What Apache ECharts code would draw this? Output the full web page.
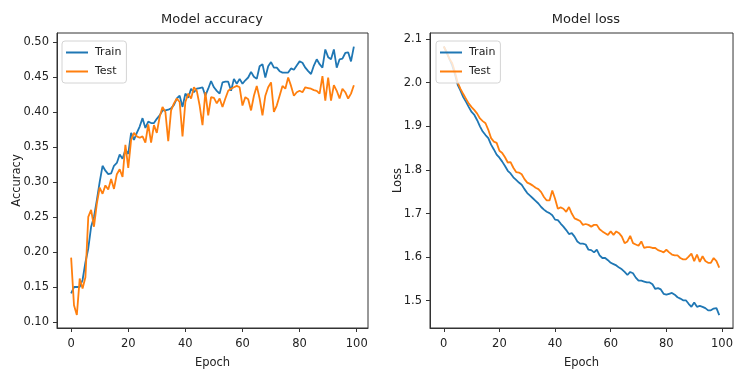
<!DOCTYPE html>
<html>
<head>
<meta charset="utf-8">
<script src="https://cdn.jsdelivr.net/npm/echarts@6/dist/echarts.min.js"></script>
<style>
  html, body { margin: 0; padding: 0; background: #fff; }
  #chart { width: 736px; height: 374px; }
</style>
</head>
<body>
<div id="chart"></div>
<script>
// accuracy per epoch (0..99)
const trainAcc = [
  0.141, 0.150, 0.150, 0.150, 0.160, 0.185, 0.205, 0.236, 0.250, 0.274,
  0.300, 0.323, 0.316, 0.311, 0.312, 0.323, 0.327, 0.339, 0.333, 0.346,
  0.340, 0.370, 0.360, 0.370, 0.379, 0.391, 0.377, 0.386, 0.384, 0.384,
  0.390, 0.395, 0.402, 0.402, 0.403, 0.405, 0.410, 0.419, 0.423, 0.407,
  0.426, 0.420, 0.433, 0.428, 0.433, 0.434, 0.435, 0.423, 0.433, 0.444,
  0.435, 0.430, 0.426, 0.442, 0.443, 0.443, 0.430, 0.447, 0.440, 0.447,
  0.440, 0.445, 0.449, 0.457, 0.450, 0.447, 0.465, 0.468, 0.449, 0.465,
  0.471, 0.463, 0.463, 0.458, 0.456, 0.456, 0.456, 0.462, 0.460, 0.466,
  0.472, 0.470, 0.463, 0.458, 0.454, 0.466, 0.475, 0.468, 0.463, 0.489,
  0.478, 0.475, 0.489, 0.463, 0.475, 0.476, 0.484, 0.485, 0.472, 0.493
];
const testAcc = [
  0.192, 0.124, 0.110, 0.162, 0.148, 0.164, 0.250, 0.260, 0.236, 0.269,
  0.292, 0.283, 0.295, 0.289, 0.304, 0.290, 0.311, 0.318, 0.307, 0.353,
  0.320, 0.360, 0.370, 0.365, 0.363, 0.365, 0.356, 0.382, 0.356, 0.381,
  0.370, 0.393, 0.407, 0.400, 0.358, 0.402, 0.412, 0.419, 0.414, 0.365,
  0.414, 0.426, 0.419, 0.435, 0.430, 0.409, 0.381, 0.428, 0.395, 0.421,
  0.420, 0.412, 0.419, 0.407, 0.419, 0.430, 0.433, 0.435, 0.437, 0.435,
  0.409, 0.421, 0.418, 0.402, 0.423, 0.437, 0.419, 0.395, 0.423, 0.435,
  0.442, 0.400, 0.409, 0.423, 0.437, 0.433, 0.449, 0.437, 0.423, 0.428,
  0.430, 0.428, 0.435, 0.434, 0.433, 0.431, 0.430, 0.426, 0.451, 0.416,
  0.449, 0.416, 0.438, 0.430, 0.419, 0.433, 0.428, 0.419, 0.426, 0.438
];
// loss per epoch (0..99)
const trainLoss = [
  2.083, 2.070, 2.055, 2.040, 2.020, 1.995, 1.982, 1.967, 1.956, 1.944,
  1.933, 1.926, 1.914, 1.900, 1.888, 1.880, 1.873, 1.858, 1.847, 1.835,
  1.828, 1.819, 1.809, 1.798, 1.792, 1.783, 1.777, 1.771, 1.766, 1.756,
  1.747, 1.741, 1.735, 1.729, 1.723, 1.715, 1.709, 1.704, 1.701, 1.696,
  1.686, 1.685, 1.677, 1.670, 1.662, 1.653, 1.655, 1.647, 1.636, 1.631,
  1.631, 1.629, 1.617, 1.616, 1.611, 1.617, 1.604, 1.598, 1.598, 1.593,
  1.587, 1.584, 1.581, 1.576, 1.572, 1.566, 1.559, 1.566, 1.563, 1.553,
  1.546, 1.546, 1.544, 1.542, 1.542, 1.538, 1.527, 1.529, 1.526, 1.516,
  1.514, 1.516, 1.518, 1.514, 1.508, 1.505, 1.501, 1.501, 1.493, 1.486,
  1.496, 1.486, 1.488, 1.486, 1.483, 1.478, 1.478, 1.482, 1.483, 1.467
];
const testLoss = [
  2.083, 2.070, 2.055, 2.045, 2.025, 2.000, 1.986, 1.974, 1.963, 1.952,
  1.944, 1.937, 1.929, 1.918, 1.912, 1.907, 1.892, 1.873, 1.865, 1.862,
  1.844, 1.839, 1.829, 1.817, 1.818, 1.805, 1.795, 1.794, 1.790, 1.779,
  1.771, 1.768, 1.764, 1.759, 1.756, 1.749, 1.738, 1.730, 1.730, 1.753,
  1.734, 1.711, 1.714, 1.711, 1.704, 1.715, 1.700, 1.689, 1.686, 1.683,
  1.674, 1.676, 1.674, 1.670, 1.674, 1.674, 1.664, 1.659, 1.655, 1.651,
  1.659, 1.651, 1.659, 1.655, 1.647, 1.632, 1.636, 1.649, 1.632, 1.629,
  1.626, 1.636, 1.621, 1.623, 1.623, 1.621, 1.621, 1.616, 1.614, 1.611,
  1.617, 1.611, 1.606, 1.604, 1.604, 1.598, 1.595, 1.595, 1.601, 1.608,
  1.591, 1.606, 1.589, 1.602, 1.591, 1.587, 1.587, 1.598, 1.591, 1.576
];

const epochTicks = [0, 20, 40, 60, 80, 100];
const accTicks = [0.10, 0.15, 0.20, 0.25, 0.30, 0.35, 0.40, 0.45, 0.50];
const lossTicks = [1.5, 1.6, 1.7, 1.8, 1.9, 2.0, 2.1];

const BLUE = "#1f77b4";
const ORANGE = "#ff7f0e";
const FONT = "DejaVu Sans";
const INK = "#333";

const withEpoch = (arr) => arr.map((v, i) => [i, v]);

const xAxisFor = (gridIndex) => ({
  type: "value",
  gridIndex,
  min: -4.95,
  max: 103.95,
  name: "Epoch",
  nameLocation: "middle",
  nameGap: 29,
  nameMoveOverlap: false,
  nameTextStyle: { fontFamily: FONT, fontSize: 11.5, color: "#222" },
  splitLine: { show: false },
  axisLine: { show: true, onZero: false, lineStyle: { color: INK, width: 1 } },
  axisTick: { show: true, length: 4, customValues: epochTicks, lineStyle: { color: INK } },
  axisLabel: {
    customValues: epochTicks,
    margin: 10,
    fontFamily: FONT,
    fontSize: 11.5,
    color: "#222",
  },
});

const yAxisFor = (gridIndex, min, max, ticks, digits, name, gap) => ({
  type: "value",
  gridIndex,
  min,
  max,
  name,
  nameLocation: "middle",
  nameGap: gap,
  nameMoveOverlap: false,
  nameTextStyle: { fontFamily: FONT, fontSize: 11.5, color: "#222" },
  splitLine: { show: false },
  axisLine: { show: true, onZero: false, lineStyle: { color: INK, width: 1 } },
  axisTick: { show: true, length: 4, customValues: ticks, lineStyle: { color: INK } },
  axisLabel: {
    customValues: ticks,
    margin: 8,
    fontFamily: FONT,
    fontSize: 11.5,
    color: "#222",
    formatter: (v) => v.toFixed(digits),
  },
});

const legendFor = (left) => ({
  orient: "vertical",
  left,
  top: 41,
  padding: [6, 5, 6, 4],
  itemGap: 8,
  itemWidth: 22,
  itemHeight: 2,
  icon: "rect",
  backgroundColor: "rgba(255,255,255,0.8)",
  borderColor: "#d4d4d4",
  borderWidth: 1,
  borderRadius: 3,
  textStyle: { fontFamily: FONT, fontSize: 11, color: "#222", padding: [0, 0, 0, 2] },
  data: ["Train", "Test"],
});

const lineSeries = (name, data, color, idx) => ({
  name,
  type: "line",
  xAxisIndex: idx,
  yAxisIndex: idx,
  data: withEpoch(data),
  showSymbol: false,
  color,
  lineStyle: { color, width: 1.8 },
  animation: false,
});

const chart = echarts.init(document.getElementById("chart"), null, { renderer: "canvas" });
chart.setOption({
  backgroundColor: "#fff",
  animation: false,
  title: [
    {
      text: "Model accuracy",
      left: 212,
      textAlign: "center",
      top: 13,
      padding: 0,
      textStyle: { fontFamily: FONT, fontSize: 13, fontWeight: "normal", color: "#222" },
    },
    {
      text: "Model loss",
      left: 586,
      textAlign: "center",
      top: 13,
      padding: 0,
      textStyle: { fontFamily: FONT, fontSize: 13, fontWeight: "normal", color: "#222" },
    },
  ],
  grid: [
    { left: 57, top: 33, width: 311, height: 300, show: true, borderColor: INK, borderWidth: 1, backgroundColor: "#fff" },
    { left: 430, top: 33, width: 311, height: 300, show: true, borderColor: INK, borderWidth: 1, backgroundColor: "#fff" },
  ],
  legend: [legendFor(62), legendFor(436)],
  xAxis: [xAxisFor(0), xAxisFor(1)],
  yAxis: [
    yAxisFor(0, 0.0915, 0.5125, accTicks, 2, "Accuracy", 34),
    yAxisFor(1, 1.4375, 2.114, lossTicks, 1, "Loss", 26),
  ],
  series: [
    lineSeries("Train", trainAcc, BLUE, 0),
    lineSeries("Test", testAcc, ORANGE, 0),
    lineSeries("Train", trainLoss, BLUE, 1),
    lineSeries("Test", testLoss, ORANGE, 1),
  ],
});
</script>
</body>
</html>
